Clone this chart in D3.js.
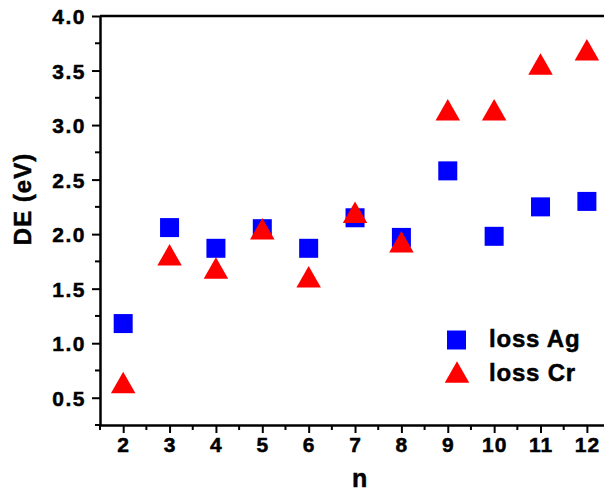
<!DOCTYPE html>
<html><head><meta charset="utf-8">
<script src="https://cdn.jsdelivr.net/npm/d3@7"></script>
<style>body{margin:0;background:#fff}svg{display:block}text{font-family:"Liberation Sans",Arial,sans-serif;font-weight:bold;fill:#000;stroke:#000;stroke-width:0.5px}</style>
</head><body><svg id="c" width="604" height="494"></svg>
<script>
const nValues = [2,3,4,5,6,7,8,9,10,11,12];
const lossAg = [1.18,2.06,1.87,2.05,1.87,2.15,1.97,2.58,1.98,2.25,2.30];
const lossCr = [0.64,1.81,1.69,2.05,1.61,2.20,1.93,3.14,3.14,3.56,3.69];
const xTicks = [2,3,4,5,6,7,8,9,10,11,12];
const yTicks = [0.5,1.0,1.5,2.0,2.5,3.0,3.5,4.0];
const seriesNames = ["loss Ag","loss Cr"];

const svg = d3.select("#c");
const L=100, T=16, B=425;
const x = d3.scaleLinear().domain([1.5,12.5]).range([L, L+11*46.37]);
const y = d3.scaleLinear().domain([0.25,4.0]).range([B, T]);

const xMinor = d3.range(1.5,12.51,0.5).filter(v=>!xTicks.includes(v));
const yMinor = d3.range(0.25,4.01,0.25).filter(v=>!yTicks.some(t=>Math.abs(t-v)<1e-6));

svg.append("line").attr("x1",L).attr("x2",x(12.5)).attr("y1",T).attr("y2",T)
  .attr("stroke","#000").attr("stroke-width",2.5);

const gx = svg.append("g").attr("transform",`translate(0,${B})`);
gx.call(d3.axisBottom(x).tickValues(xTicks).tickSize(8).tickFormat(d3.format("d")).tickSizeOuter(0));
gx.selectAll(".tick line").attr("stroke-width",2);
gx.select(".domain").attr("stroke-width",2.5);
gx.selectAll(".tick text").attr("font-size",21).attr("y",12).attr("dy","0.72em").attr("fill","#000")
  .style("font-family",'"Liberation Sans",Arial,sans-serif').style("font-weight","bold").attr("letter-spacing",1);
gx.selectAll(".minor").data(xMinor).enter().append("line")
  .attr("x1",d=>x(d)).attr("x2",d=>x(d)).attr("y1",0).attr("y2",5).attr("stroke","#000").attr("stroke-width",2);

const gy = svg.append("g").attr("transform",`translate(${L},0)`);
gy.call(d3.axisLeft(y).tickValues(yTicks).tickSize(8).tickFormat(d3.format(".1f")).tickSizeOuter(0));
gy.selectAll(".tick line").attr("stroke-width",2);
gy.select(".domain").attr("stroke-width",2.5);
gy.selectAll(".tick text").attr("font-size",21).attr("x",-14).attr("dy","0.36em").attr("fill","#000")
  .style("font-family",'"Liberation Sans",Arial,sans-serif').style("font-weight","bold").attr("letter-spacing",1.5);
gy.selectAll(".minor").data(yMinor).enter().append("line")
  .attr("x1",0).attr("x2",-5).attr("y1",d=>y(d)).attr("y2",d=>y(d)).attr("stroke","#000").attr("stroke-width",2);

svg.append("text").attr("x",x(7.1)).attr("y",487).attr("text-anchor","middle").attr("font-size",25).text("n");
svg.append("text").attr("transform","translate(31,199) rotate(-90)").attr("text-anchor","middle")
  .attr("font-size",24).attr("letter-spacing",1).text("DE (eV)");

const sq = 19, tw = 24.5, th = 21.5;
const triPath = `M0,${-th/2}L${tw/2},${th/2}L${-tw/2},${th/2}Z`;

svg.append("g").selectAll("rect").data(nValues).enter().append("rect")
  .attr("x",(d,i)=>x(d)-sq/2).attr("y",(d,i)=>y(lossAg[i])-sq/2)
  .attr("width",sq).attr("height",sq).attr("fill","#0000ff");
svg.append("g").selectAll("path").data(nValues).enter().append("path")
  .attr("d",triPath).attr("transform",(d,i)=>`translate(${x(d)},${y(lossCr[i])})`).attr("fill","#ff0000");

const lg = svg.append("g");
lg.append("rect").attr("x",456.5-sq/2).attr("y",340-sq/2).attr("width",sq).attr("height",sq).attr("fill","#0000ff");
lg.append("path").attr("d",triPath).attr("transform","translate(457,372)").attr("fill","#ff0000");
lg.append("text").attr("x",489).attr("y",347).attr("font-size",24).attr("letter-spacing",0.8).text(seriesNames[0]);
lg.append("text").attr("x",489).attr("y",381).attr("font-size",24).attr("letter-spacing",0.8).text(seriesNames[1]);
</script></body></html>
